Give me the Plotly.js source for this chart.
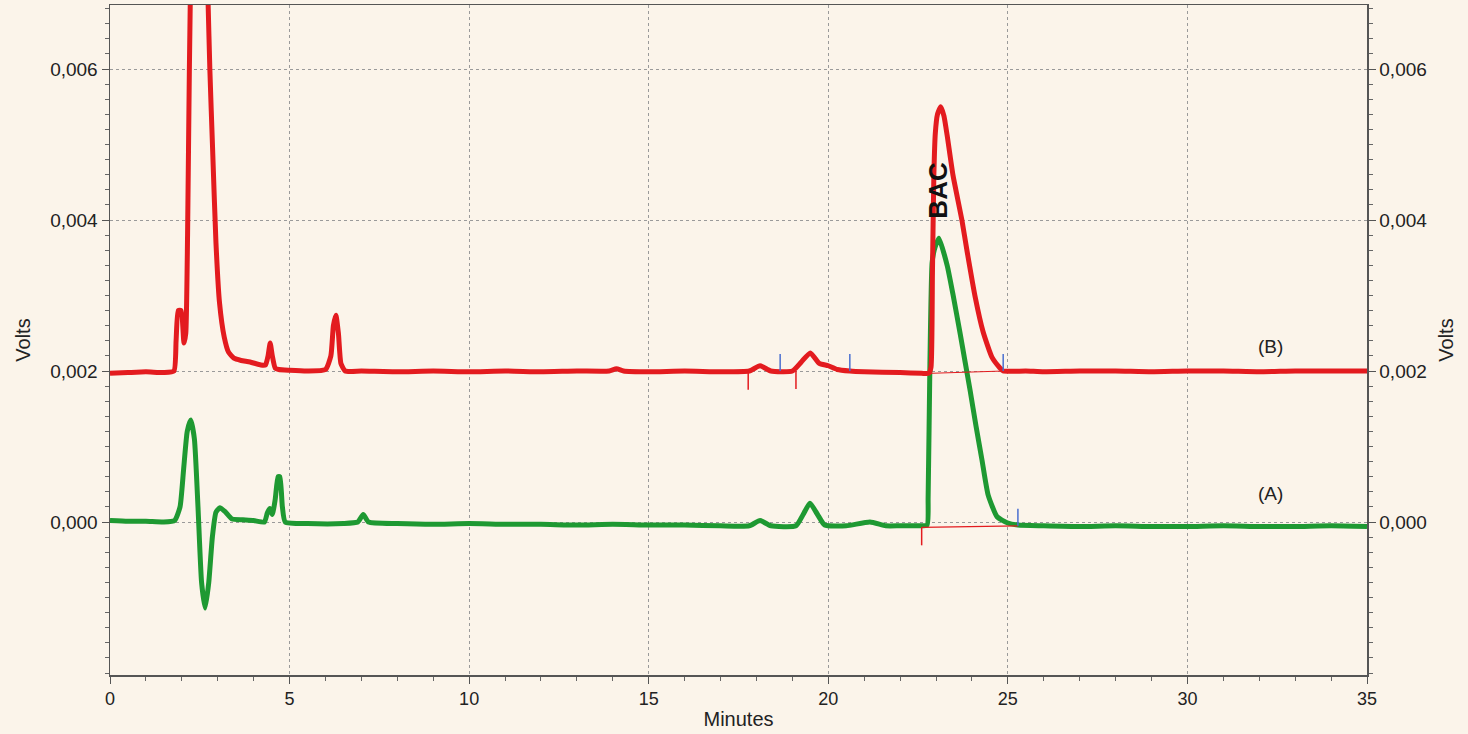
<!DOCTYPE html>
<html>
<head>
<meta charset="utf-8">
<script src="https://cdn.plot.ly/plotly-3.0.1.min.js"></script>
<style>html,body{margin:0;padding:0;background:#FBF4EA;}#chart{width:1468px;height:734px;}</style>
</head>
<body>
<div id="chart"></div>
<script>
// Trace (B) - red, minutes / volts
const bTime = [0,0.5,1.0,1.5,1.78,1.84,1.9,1.98,2.06,2.11,2.16,2.21,2.27,2.4,2.55,2.68,2.73,2.78,2.86,2.95,3.05,3.18,3.3,3.45,3.65,3.9,4.2,4.33,4.4,4.46,4.52,4.6,4.7,5.0,5.5,6.0,6.15,6.22,6.29,6.36,6.43,6.55,7,8,9,10,11,12,13,13.9,14.1,14.3,15,16,17,17.8,18.1,18.4,19.0,19.25,19.5,19.75,20.0,20.25,20.6,21,22,22.6,22.8,22.86,22.9,22.94,22.98,23.04,23.13,23.22,23.31,23.47,23.72,23.86,24.09,24.31,24.56,24.78,24.87,25.5,26,27,28,29,30,31,32,33,34,35];
const bVolts = [0.00197,0.00198,0.00199,0.00198,0.002,0.0024,0.0028,0.0028,0.00237,0.0025,0.0038,0.006,0.0079,0.0095,0.0092,0.0078,0.0069,0.006,0.0049,0.0037,0.0029,0.00245,0.00225,0.00217,0.00214,0.00212,0.00208,0.00208,0.0022,0.00237,0.0022,0.00204,0.00202,0.00201,0.002,0.00202,0.0022,0.0026,0.00274,0.0025,0.0021,0.002,0.002,0.00199,0.002,0.00199,0.002,0.00199,0.002,0.002,0.00203,0.002,0.00199,0.002,0.00199,0.002,0.00207,0.002,0.002,0.00212,0.00224,0.0021,0.00207,0.00202,0.002,0.00199,0.00198,0.00197,0.00197,0.00205,0.0033,0.0046,0.00515,0.0054,0.0055,0.00538,0.00512,0.0046,0.004,0.0036,0.00298,0.00252,0.00218,0.00204,0.002,0.002,0.00199,0.002,0.002,0.00199,0.002,0.002,0.00199,0.002,0.002,0.002];

// Trace (A) - green
const aTime = [0,0.5,1.0,1.5,1.8,1.95,2.05,2.15,2.25,2.35,2.45,2.55,2.65,2.75,2.85,2.95,3.06,3.2,3.4,3.7,4.0,4.3,4.38,4.45,4.52,4.6,4.68,4.73,4.8,4.88,5.5,6.5,6.9,7.05,7.2,8,9,10,11,12,13,14,15,16,17,17.8,18.1,18.4,19.1,19.3,19.49,19.7,19.9,20.5,21.16,21.6,22,22.5,22.75,22.78,22.83,22.89,22.95,23.02,23.08,23.31,23.47,23.67,23.81,23.95,24.11,24.28,24.45,24.7,24.98,25.28,26,27,28,29,30,31,32,33,34,35];
const aVolts = [0.00002,0.00001,0.00001,0.0,0.00002,0.0002,0.0007,0.0012,0.00135,0.0011,0.0002,-0.0008,-0.00114,-0.0008,-0.0002,0.00013,0.00019,0.00014,0.00004,0.00003,0.00002,0.0,0.00012,0.00018,0.0001,0.0003,0.0006,0.0006,0.0002,0.0,-0.00002,-0.00002,0.0,0.0001,0.0,-0.00002,-0.00003,-0.00002,-0.00003,-0.00003,-0.00004,-0.00003,-0.00004,-0.00004,-0.00005,-0.00005,0.00002,-0.00005,-0.00005,0.0001,0.00025,0.0001,-0.00004,-0.00005,0.0,-0.00005,-0.00005,-0.00005,-0.00004,0.00033,0.0021,0.00343,0.0036,0.0037,0.00376,0.0034,0.00302,0.0025,0.00212,0.00174,0.00128,0.00082,0.00036,0.00007,-0.00001,-0.00004,-0.00005,-0.00006,-0.00005,-0.00006,-0.00006,-0.00005,-0.00006,-0.00006,-0.00005,-0.00006];

// Integration marks
const startMarkX = [17.77, 19.1, 22.6];
const startMarkY = [0.00199, 0.002, -0.00007];
const endMarkX = [18.66, 20.6, 24.87, 25.28];
const endMarkY = [0.002, 0.002, 0.002, -0.00005];
const bacBaseBX = [22.86, 24.87];
const bacBaseBY = [0.00197, 0.002];
const bacBaseAX = [22.6, 25.28];
const bacBaseAY = [-0.00007, -0.00005];

const yTickVals = [0, 0.002, 0.004, 0.006];
const xTickVals = [0, 5, 10, 15, 20, 25, 30, 35];

const RED = '#E31B1F', GREEN = '#1E9932', BLUE = '#4A6FD0';
const BG = '#FBF4EA';
const FONT = 'Liberation Sans, Arial, sans-serif';

const traces = [
  {x: aTime, y: aVolts, type: 'scatter', mode: 'lines', line: {color: GREEN, width: 5, shape: 'spline', smoothing: 0.5}, hoverinfo: 'skip', showlegend: false},
  {x: bTime, y: bVolts, type: 'scatter', mode: 'lines', line: {color: RED, width: 5, shape: 'spline', smoothing: 0.5}, hoverinfo: 'skip', showlegend: false},
  {x: bacBaseBX, y: bacBaseBY, type: 'scatter', mode: 'lines', line: {color: RED, width: 1}, hoverinfo: 'skip', showlegend: false},
  {x: bacBaseAX, y: bacBaseAY, type: 'scatter', mode: 'lines', line: {color: RED, width: 1.2}, hoverinfo: 'skip', showlegend: false},
  {x: [0, 35], y: [0, 0], yaxis: 'y2', type: 'scatter', mode: 'lines', line: {width: 0}, opacity: 0, hoverinfo: 'skip', showlegend: false}
];

const shapes = [];
startMarkX.forEach((x, i) => shapes.push({type: 'line', xref: 'x', yref: 'y', ysizemode: 'pixel', yanchor: startMarkY[i], x0: x, x1: x, y0: 0, y1: -18, line: {color: RED, width: 1.5}}));
endMarkX.forEach((x, i) => shapes.push({type: 'line', xref: 'x', yref: 'y', ysizemode: 'pixel', yanchor: endMarkY[i], x0: x, x1: x, y0: 0, y1: 17, line: {color: BLUE, width: 1.5}}));

const yRange = [-0.002026, 0.006848];
const commonY = {
  range: yRange, tickvals: yTickVals, tickformat: '.3f',
  ticks: 'outside', ticklen: 7, tickcolor: '#555', tickwidth: 1,
  minor: {tickmode: 'linear', tick0: 0, dtick: 0.0002, ticks: 'outside', ticklen: 4, tickcolor: '#666', showgrid: false},
  showline: true, linecolor: '#555', linewidth: 1.5,
  tickfont: {family: FONT, size: 19, color: '#222'},
  zeroline: false, fixedrange: true
};

const layout = {
  width: 1468, height: 734,
  paper_bgcolor: BG, plot_bgcolor: BG,
  separators: ',.',
  margin: {l: 110, r: 101, t: 5, b: 59},
  showlegend: false,
  xaxis: {
    range: [0, 35], tickvals: xTickVals, ticks: 'outside', ticklen: 7, tickcolor: '#555',
    minor: {dtick: 1, tick0: 0, ticks: 'outside', ticklen: 4, tickcolor: '#666', showgrid: false},
    showline: true, linecolor: '#555', linewidth: 1.5, mirror: true,
    showgrid: true, gridcolor: '#9a9a9a', griddash: 'dot', gridwidth: 1,
    zeroline: false,
    tickfont: {family: FONT, size: 18, color: '#222'},
    title: {text: 'Minutes', font: {family: FONT, size: 20, color: '#222'}, standoff: 4},
    automargin: false
  },
  yaxis: Object.assign({}, commonY, {
    side: 'left',
    showgrid: true, gridcolor: '#9a9a9a', griddash: 'dot', gridwidth: 1,
    title: {text: 'Volts', font: {family: FONT, size: 20, color: '#222'}, standoff: 14},
    automargin: false
  }),
  yaxis2: Object.assign({}, commonY, {
    overlaying: 'y', side: 'right', showgrid: false,
    title: {text: 'Volts', font: {family: FONT, size: 20, color: '#222'}, standoff: 12},
    automargin: false
  }),
  shapes: shapes,
  annotations: [
    {x: 23.05, y: 0.0044, xref: 'x', yref: 'y', text: '<b>BAC</b>', showarrow: false, textangle: -90, font: {family: FONT, size: 26, color: '#111'}},
    {x: 32.3, y: 0.00232, xref: 'x', yref: 'y', text: '(B)', showarrow: false, font: {family: FONT, size: 19, color: '#222'}},
    {x: 32.3, y: 0.00038, xref: 'x', yref: 'y', text: '(A)', showarrow: false, font: {family: FONT, size: 19, color: '#222'}}
  ]
};

Plotly.newPlot('chart', traces, layout, {displayModeBar: false, staticPlot: true});
</script>
</body>
</html>
